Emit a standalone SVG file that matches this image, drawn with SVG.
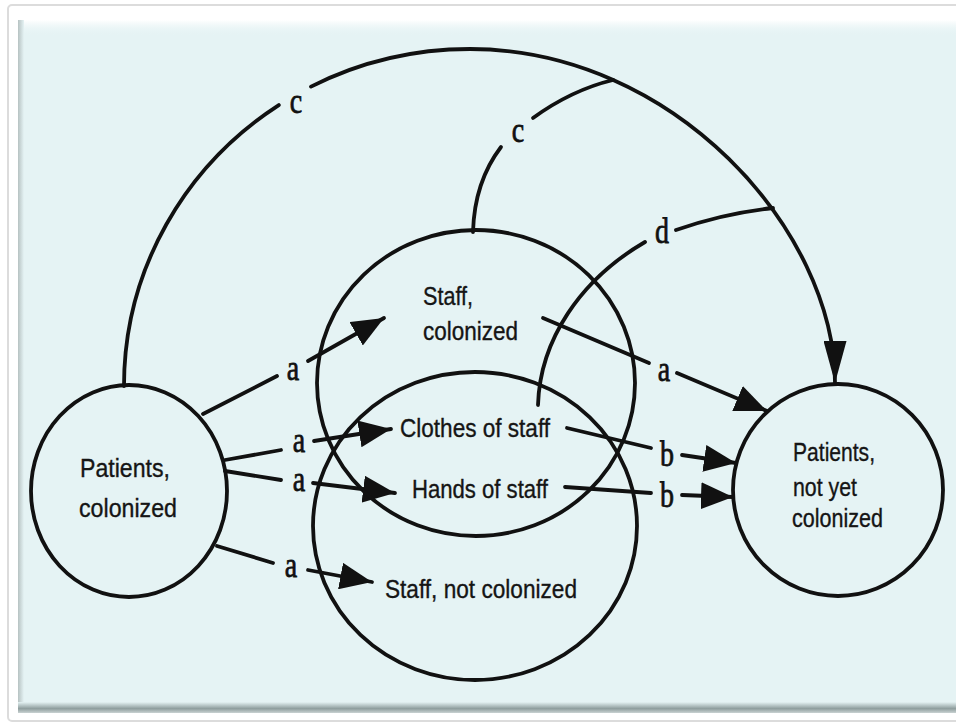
<svg xmlns="http://www.w3.org/2000/svg" width="956" height="728" viewBox="0 0 956 728">
<defs>
<style>
.node{fill:none;stroke:#111;stroke-width:3.8}
.ln{fill:none;stroke:#111;stroke-width:3.8;stroke-linecap:round}
.ar{marker-end:url(#ah)}
.t{font-family:"Liberation Sans",Arial,sans-serif;font-size:25px;fill:#151515;stroke:#151515;stroke-width:0.35}
.lb{font-family:"Liberation Serif","Times New Roman",serif;font-size:28px;fill:#111;stroke:#111;stroke-width:0.6;text-anchor:middle}
</style>
<marker id="ah" markerUnits="userSpaceOnUse" viewBox="0 0 32 27" markerWidth="32" markerHeight="27" refX="32" refY="13.5" orient="auto"><path d="M0,0 L32,13.5 L0,27 z" fill="#111"/></marker>
<marker id="ahl" markerUnits="userSpaceOnUse" viewBox="0 0 42 23" markerWidth="42" markerHeight="23" refX="42" refY="11.5" orient="auto"><path d="M0,0 L42,11.5 L0,23 z" fill="#111"/></marker>
<linearGradient id="gTop" x1="0" y1="0" x2="0" y2="1"><stop offset="0" stop-color="#ffffff"/><stop offset="1" stop-color="#e5f3f4" stop-opacity="0"/></linearGradient>
<linearGradient id="gBot" x1="0" y1="0" x2="0" y2="1"><stop offset="0" stop-color="#e5f3f4"/><stop offset="0.6" stop-color="#8f9e9e"/><stop offset="1" stop-color="#c9d2d2"/></linearGradient>
<linearGradient id="gLeft" x1="0" y1="0" x2="1" y2="0"><stop offset="0" stop-color="#b6c2c2"/><stop offset="1" stop-color="#e5f3f4"/></linearGradient>
</defs>
<rect x="0" y="0" width="956" height="728" fill="#ffffff"/>
<rect x="8" y="5" width="970" height="716" rx="4" fill="none" stroke="#dcdcdc" stroke-width="2"/>
<rect x="18" y="20" width="940" height="693" fill="#e5f3f4"/>
<rect x="18" y="20" width="940" height="16" fill="url(#gTop)"/>
<rect x="18" y="20" width="6" height="690" fill="url(#gLeft)"/>
<rect x="18" y="702" width="940" height="11" fill="url(#gBot)"/>

<g id="connectors">
<path class="ln" d="M124,386 C124,268.8 185.5,165.5 278.8,105.1"/>
<path class="ln" d="M311,86.6 C358.6,62.6 412.7,49 470,49 C673,49 835,230 835,383" marker-end="url(#ahl)"/>
<path class="ln" d="M473,232 C474,195 485,168 501,147"/>
<path class="ln" d="M533,118 C555,102 580,88 613,80"/>
<path class="ln" d="M538,405 C540,340 580,280 645,242"/>
<path class="ln" d="M676,230 C710,218 745,211 773,208"/>
<path class="ln" d="M203,414 L277,376"/>
<path class="ln ar" d="M308,361 L384,318"/>
<path class="ln" d="M225,460 L281,450"/>
<path class="ln ar" d="M314,441 L391,429"/>
<path class="ln" d="M225,471 L281,480"/>
<path class="ln ar" d="M313,483 L395,493"/>
<path class="ln" d="M217,546 L273,563"/>
<path class="ln ar" d="M308,570 L372,582"/>
<path class="ln" d="M543,318 L649,363"/>
<path class="ln ar" d="M677,373 L767,411"/>
<path class="ln" d="M567,428 L651,448"/>
<path class="ln ar" d="M682,455 L736,463"/>
<path class="ln" d="M565,487 L651,493"/>
<path class="ln ar" d="M682,495 L733,497"/>
<text class="lb" transform="translate(296,113) scale(1,1.25)">c</text>
<text class="lb" transform="translate(518,142) scale(1,1.25)">c</text>
<text class="lb" transform="translate(662,243) scale(1,1.25)">d</text>
<text class="lb" transform="translate(293,380) scale(1,1.25)">a</text>
<text class="lb" transform="translate(299,452) scale(1,1.25)">a</text>
<text class="lb" transform="translate(299,491) scale(1,1.25)">a</text>
<text class="lb" transform="translate(291,577) scale(1,1.25)">a</text>
<text class="lb" transform="translate(664,381) scale(1,1.25)">a</text>
<text class="lb" transform="translate(667,466) scale(1,1.25)">b</text>
<text class="lb" transform="translate(667,507) scale(1,1.25)">b</text>
</g>

<g id="patients-colonized">
<ellipse class="node" cx="129" cy="491" rx="98" ry="106"/>
<text class="t" x="80" y="477" textLength="90" lengthAdjust="spacingAndGlyphs">Patients,</text>
<text class="t" x="79" y="517" textLength="98" lengthAdjust="spacingAndGlyphs">colonized</text>
</g>

<g id="staff-colonized">
<ellipse class="node" cx="476" cy="383" rx="159" ry="153"/>
<text class="t" x="423" y="305" textLength="50" lengthAdjust="spacingAndGlyphs">Staff,</text>
<text class="t" x="423" y="340" textLength="95" lengthAdjust="spacingAndGlyphs">colonized</text>
</g>

<g id="staff-not-colonized">
<ellipse class="node" cx="475" cy="526" rx="162" ry="154"/>
<text class="t" x="385" y="598" textLength="192" lengthAdjust="spacingAndGlyphs">Staff, not colonized</text>
</g>

<g id="clothes-of-staff">
<text class="t" x="400" y="437" textLength="150" lengthAdjust="spacingAndGlyphs">Clothes of staff</text>
</g>

<g id="hands-of-staff">
<text class="t" x="412" y="498" textLength="136" lengthAdjust="spacingAndGlyphs">Hands of staff</text>
</g>

<g id="patients-not-yet-colonized">
<ellipse class="node" cx="838" cy="490" rx="105" ry="106"/>
<text class="t" x="793" y="461" textLength="82" lengthAdjust="spacingAndGlyphs">Patients,</text>
<text class="t" x="793" y="496" textLength="64" lengthAdjust="spacingAndGlyphs">not yet</text>
<text class="t" x="792" y="527" textLength="91" lengthAdjust="spacingAndGlyphs">colonized</text>
</g>
</svg>
